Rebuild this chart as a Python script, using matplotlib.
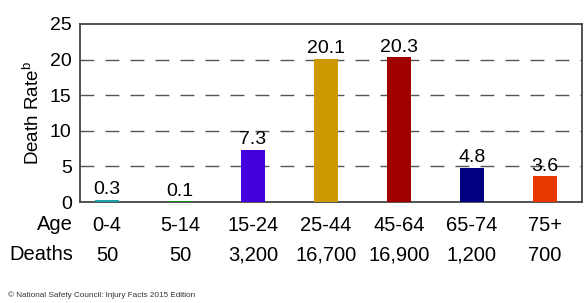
import matplotlib.pyplot as plt

plt.rcParams['font.family'] = ['Liberation Sans', 'DejaVu Sans']
plt.rcParams['mathtext.fontset'] = 'custom'
plt.rcParams['mathtext.rm'] = 'Liberation Sans'

ages = ['0-4', '5-14', '15-24', '25-44', '45-64', '65-74', '75+']
death_rate = [0.3, 0.1, 7.3, 20.1, 20.3, 4.8, 3.6]
deaths = ['50', '50', '3,200', '16,700', '16,900', '1,200', '700']
colors = ['#1aa3a8', '#1a8f1a', '#4400dd', '#cc9900', '#a00000', '#000080', '#e83800']

fig = plt.figure(figsize=(5.86, 3.03), dpi=100)
ax = fig.add_axes([0.1365, 0.3333, 0.8567, 0.5875])

x = list(range(len(ages)))
ax.bar(x, death_rate, width=0.33, color=colors, zorder=3)
for xi, v in zip(x, death_rate):
    ax.text(xi, v + 0.25, f'{v}', ha='center', va='bottom', fontsize=14, zorder=4)

ax.set_xlim(-0.37, 6.51)
ax.set_ylim(0, 25)
ax.set_yticks([0, 5, 10, 15, 20, 25])
ax.tick_params(axis='y', length=0, labelsize=14, pad=6)
ax.set_xticks([])
for y in [5, 10, 15, 20]:
    ax.axhline(y, color='#555555', lw=1, dashes=(10, 8), zorder=1)
for s in ax.spines.values():
    s.set_color('#444444')
    s.set_linewidth(1.3)

ax.set_ylabel('Death Rate$^{\\mathrm{b}}$', fontsize=13.5, labelpad=5)

# table rows under the axis
tr = ax.get_xaxis_transform()
for xi, a, d in zip(x, ages, deaths):
    ax.text(xi, -0.13, a, transform=tr, ha='center', va='center', fontsize=14.5)
    ax.text(xi, -0.30, d, transform=tr, ha='center', va='center', fontsize=14.5)
fig.text(73 / 586, 1 - 225 / 303, 'Age', ha='right', va='center', fontsize=14.5)
fig.text(73 / 586, 1 - 255 / 303, 'Deaths', ha='right', va='center', fontsize=14.5)

fig.text(8 / 586, 1 - 295 / 303, '© National Safety Council: Injury Facts 2015 Edition',
         ha='left', va='center', fontsize=5.9, color='#333333')

fig.savefig('out.png', dpi=100)
